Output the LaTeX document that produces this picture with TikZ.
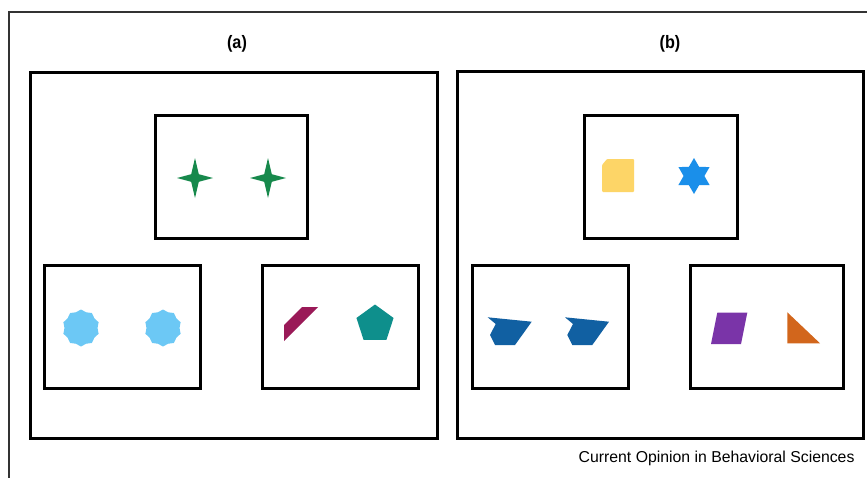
\documentclass[tikz,border=0pt]{standalone}
\usepackage{fontspec}
\setmainfont{Liberation Sans}
\usetikzlibrary{shapes.geometric}
\definecolor{stargreen}{HTML}{17894C}
\definecolor{sealblue}{HTML}{6CC8F5}
\definecolor{maroon}{HTML}{9A1A58}
\definecolor{tealc}{HTML}{0E8F8C}
\definecolor{yel}{HTML}{FDD567}
\definecolor{davblue}{HTML}{1A8FEA}
\definecolor{dkblue}{HTML}{1160A2}
\definecolor{purp}{HTML}{7A34A8}
\definecolor{oran}{HTML}{D2661C}
\tikzset{
  panel/.style={draw=black, line width=3pt, inner sep=0pt},
  cell/.style={draw=black, line width=3pt, inner sep=0pt},
  title/.style={font=\bfseries\fontsize{18}{20}\selectfont},
  seal/.style={star, star points=10, star point ratio=1.12, fill=sealblue, minimum size=37pt, inner sep=0pt},
}
\begin{document}
\begin{tikzpicture}[x=1pt,y=-1pt]
\useasboundingbox (0,0) rectangle (867,477);
\fill[white] (0,0) rectangle (867,477);
% outer frame
\coordinate (ftr) at (868,12);
\coordinate (ftl) at (9,12);
\coordinate (fbl) at (9,478);
\draw[line width=1.2pt, black!80] (ftr) -- (ftl) -- (fbl);
% titles
\node[title, xscale=0.9] (ta) at (237,44) {(a)};
\node[title, xscale=0.9] (tb) at (670,44) {(b)};
% panels
\node[panel, minimum width=407pt, minimum height=366pt] (pa) at (233.5,255) {};
\node[panel, minimum width=406pt, minimum height=367pt] (pb) at (660,254.5) {};
% cells (a)
\node[cell, minimum width=152pt, minimum height=123pt] (a1) at (231,176.5) {};
\node[cell, minimum width=156pt, minimum height=123pt] (a2) at (122,326.5) {};
\node[cell, minimum width=156pt, minimum height=123pt] (a3) at (340,326.5) {};
% cells (b)
\node[cell, minimum width=153pt, minimum height=123pt] (b1) at (660.5,176.5) {};
\node[cell, minimum width=156pt, minimum height=123pt] (b2) at (550,326.5) {};
\node[cell, minimum width=153pt, minimum height=123pt] (b3) at (766.5,326.5) {};
% green four-pointed stars
\foreach \cx in {195,268}{
  \fill[stargreen, shift={(\cx,178)}] (0,-20) -- (3.8,-3.8) -- (18,0) -- (3.8,3.8) -- (0,20) -- (-3.8,3.8) -- (-18,0) -- (-3.8,-3.8) -- cycle;
}
% seals
\node[seal] (s1) at (81,328) {};
\node[seal] (s2) at (163,328) {};
% maroon quadrilateral
\fill[maroon] (302,307) -- (318,307) -- (284,341) -- (284,325) -- cycle;
% pentagon
\node[regular polygon, regular polygon sides=5, fill=tealc, minimum size=39pt, inner sep=0pt] (pent) at (375,324) {};
% yellow chamfered square
\fill[yel, rounded corners=1pt] (607,159) -- (634,159) -- (634,192) -- (602,192) -- (602,165) -- cycle;
% star of David
\node[star, star points=6, star point ratio=1.73, fill=davblue, minimum size=36pt, inner sep=0pt] (dav) at (694,176) {};
% dark blue shapes
\foreach \dx in {0,77.3}{
  \fill[dkblue, shift={(\dx,0)}] (487.7,317.3) -- (531.7,321.7) -- (515,345) -- (495,345) -- (490,335) -- (495.7,324) -- cycle;
}
% purple parallelogram
\fill[purp] (717.3,312.7) -- (747.3,312.7) -- (741,344) -- (711,344) -- cycle;
% orange triangle
\fill[oran] (787.3,312.3) -- (787.3,343.3) -- (820,343.3) -- cycle;
% caption
\node[anchor=east, font=\fontsize{15.8}{18}\selectfont] (cap) at (858,458) {Current Opinion in Behavioral Sciences};
\end{tikzpicture}
\end{document}
